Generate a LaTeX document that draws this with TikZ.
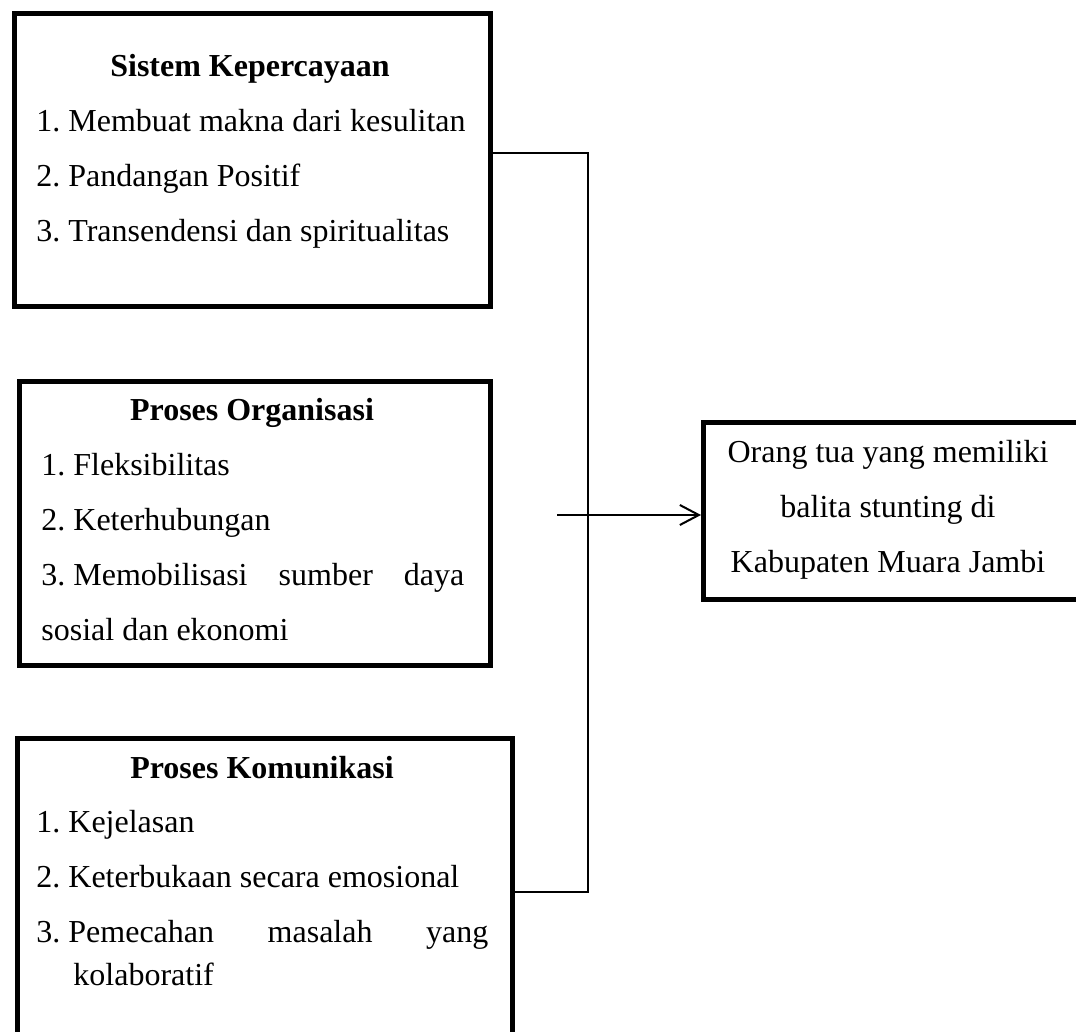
\documentclass[tikz,border=0pt]{standalone}
\usepackage{fontspec}
\setmainfont{Liberation Serif}
\usetikzlibrary{arrows.meta}

\begin{document}
\begin{tikzpicture}[x=0.5pt, y=-0.5pt, style={font=\fontsize{16}{27.5}\selectfont\frenchspacing},
		kotak/.style={draw, line width=2.6pt, inner sep=0pt, anchor=north west},
		judul/.style={font=\fontsize{16}{27.5}\selectfont\bfseries, anchor=base, inner sep=0pt},
		isi/.style={align=left, anchor=base west, inner sep=0pt},
		garis/.style={line width=1pt}]
		\clip (0,0) rectangle (1076,1032);
		% kotak kiri
		\node[kotak, minimum width=238pt, minimum height=146.5pt] (sk) at (12,11) {};
		\node[kotak, minimum width=235.5pt, minimum height=142pt] (po) at (17,379) {};
		\node[kotak, minimum width=247.5pt, minimum height=160pt] (pk) at (15,736) {};
		% kotak kanan
		\node[kotak, minimum width=200pt, minimum height=88.5pt] (ot) at (701,420) {};
		% isi (titik acuan = baris terakhir)
		\node[judul] (skjudul) at (250,77) {Sistem Kepercayaan};
		\node[isi] (skisi) at (36,242) {1. Membuat makna dari kesulitan\\2. Pandangan Positif\\3. Transendensi dan spiritualitas};
		\node[judul] (pojudul) at (252,420) {Proses Organisasi};
		\node[isi] (poisi) at (41,640) {1. Fleksibilitas\\2. Keterhubungan\\\makebox[211.5pt][l]{3.\ Memobilisasi\hfill sumber\hfill daya}\\sosial dan ekonomi};
		\node[judul] (pkjudul) at (262,778) {Proses Komunikasi};
		\node[isi] (pkisi) at (36,985) {1. Kejelasan\\2. Keterbukaan secara emosional\\\makebox[226pt][l]{3.\ Pemecahan\hfill masalah\hfill yang}\\[-6pt]\hspace*{18.5pt}kolaboratif};
		\node[align=center, anchor=base, inner sep=0pt] (otisi) at (888,572) {Orang tua yang memiliki\\balita stunting di\\Kabupaten Muara Jambi};
		\coordinate (sambung) at (557,515);
		\draw[garis] (sk.east |- 0,153) -- (588,153) -- (588,892) -- (pk.east |- 0,892);
		\draw[garis, -{Straight Barb[length=9.5pt, width=10pt]}] (sambung) -- (ot.west |- sambung);
	\end{tikzpicture}
\end{document}
